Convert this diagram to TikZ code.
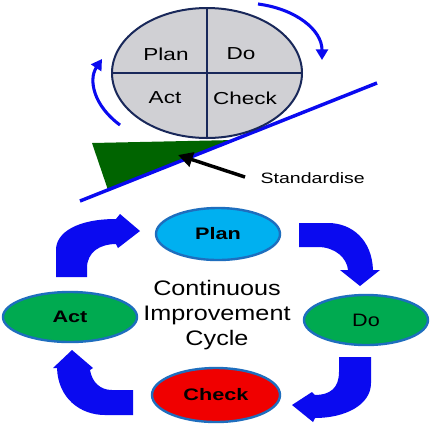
\documentclass[tikz,border=0pt]{standalone}
\usepackage{fontspec}
\setmainfont{Liberation Sans}
\newfontfamily\widef[FakeStretch=1.3]{Liberation Sans}
\newfontfamily\widee[FakeStretch=1.2]{Liberation Sans}
\usetikzlibrary{shapes.geometric,arrows.meta}
\definecolor{pgray}{RGB}{208,208,212}
\definecolor{navy}{RGB}{25,40,90}
\definecolor{ablue}{RGB}{10,10,240}
\definecolor{lblue}{RGB}{0,176,240}
\definecolor{ggreen}{RGB}{0,170,80}
\definecolor{rred}{RGB}{240,0,0}
\definecolor{eblue}{RGB}{30,110,190}
\definecolor{dgreen}{RGB}{0,100,0}
\tikzset{
  cyc/.style={ellipse,draw=eblue,line width=1.8pt,inner sep=0pt},
  blockarrow/.style={fill=ablue,draw=none},
  thinarc/.style={draw=ablue,line width=2.3pt,-{Triangle[length=8pt,width=9pt]}},
  qtext/.style={font=\widef\fontsize{13}{15}\selectfont},
  btext/.style={font=\widef\bfseries\fontsize{12.5}{14}\selectfont},
}
\begin{document}
\begin{tikzpicture}[x=0.75pt,y=-0.75pt]
\useasboundingbox[fill=white] (0,0) rectangle (431,426);
% --- top part ---
\fill[dgreen] (92,143) -- (235,140) -- (108,190) -- cycle;
\coordinate (lineA) at (80,201);
\coordinate (lineB) at (377,83);
\draw[ablue,line width=2.6pt] (lineA) -- (lineB);
\node[ellipse,draw=navy,fill=pgray,line width=1.5pt,minimum width=142.5pt,minimum height=97.5pt,inner sep=0pt] (pdca) at (207,73) {};
\draw[navy,line width=1.5pt] (pdca.north) -- (pdca.south);
\draw[navy,line width=1.5pt] (pdca.west) -- (pdca.east);
\node[qtext] (tplan) at (166,54) {Plan};
\node[qtext] (tdo) at (241,54) {Do};
\node[qtext] (tact) at (165,98) {Act};
\node[qtext] (tcheck) at (245,98) {Check};
\coordinate (la) at (120,125);
\coordinate (lb) at (102,59);
\draw[thinarc] (la) .. controls (94,106) and (88,80) .. (lb);
\coordinate (ra) at (258,4);
\coordinate (rb) at (322,60);
\draw[thinarc] (ra) .. controls (296,9) and (322,30) .. (rb);
\node[font=\widef\fontsize{11.25}{13}\selectfont,anchor=west] (std) at (256,178) {Standardise};
\coordinate (stdfrom) at (245,177);
\coordinate (stdtip) at (178,155);
\draw[black,line width=2.6pt,-{Triangle[length=11pt,width=11pt]}] (stdfrom) -- (stdtip);
% --- bottom cycle ---
\node[cyc,fill=lblue,minimum width=93pt,minimum height=39pt] (plan) at (218,234) {};
\node[btext] at (plan.center) {Plan};
\node[cyc,fill=ggreen,minimum width=93pt,minimum height=37.5pt] (do) at (366,320) {};
\node[font=\widee\fontsize{13.5}{16}\selectfont] at (do.center) {Do};
\node[cyc,fill=rred,minimum width=96pt,minimum height=40.5pt] (check) at (216,395) {};
\node[btext] at (check.center) {Check};
\node[cyc,fill=ggreen,minimum width=100.5pt,minimum height=37.5pt] (act) at (70,317) {};
\node[btext] at (act.center) {Act};
\node[font=\widee\fontsize{15.75}{18.5}\selectfont,align=center] (cic) at (217,315) {Continuous\\Improvement\\Cycle};
% block arrows
\fill[blockarrow] (56,277) -- (56,250) .. controls (56,232) and (78,219) .. (116,219) -- (120,214) -- (140,231) -- (118,248) -- (116,244) .. controls (100,244) and (87,252) .. (87,268) -- (87,277) -- cycle;
\fill[blockarrow] (299,223) -- (328,223) .. controls (352,223) and (372,240) .. (373,270) -- (380,270) -- (360,286) -- (340,270) -- (348,270) .. controls (347,258) and (335,247) .. (318,247) -- (299,247) -- cycle;
\fill[blockarrow] (339,357) -- (371,357) -- (371,383) .. controls (371,405) and (345,418) .. (315,418) -- (313,422) -- (292,405) -- (312,392) -- (315,395) .. controls (330,395) and (339,388) .. (339,372) -- cycle;
\fill[blockarrow] (133,390) -- (133,415) -- (105,415) .. controls (80,415) and (58,398) .. (57,368) -- (53,368) -- (72,350) -- (93,368) -- (90,370) .. controls (92,382) and (100,390) .. (112,390) -- cycle;
\end{tikzpicture}
\end{document}
